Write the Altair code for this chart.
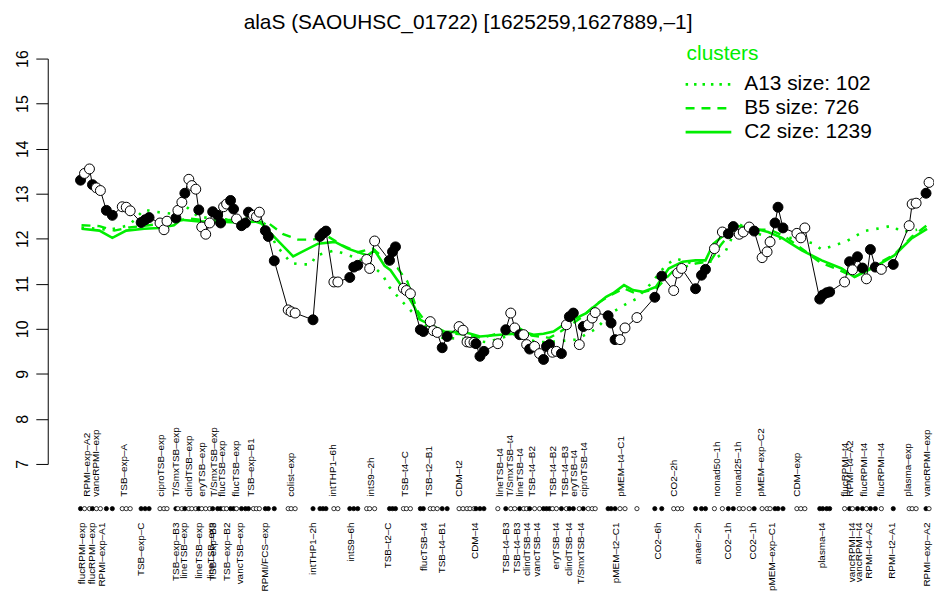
import altair as alt
import pandas as pd

TITLE = "alaS (SAOUHSC_01722) [1625259,1627889,\u20131]"

# sample positions (order along the x axis), expression values, filled(1)/open(0)
pos = [0, 4, 9, 12, 16, 20, 26, 32, 42, 46, 50, 61, 65, 69, 80, 84, 87, 96, 98, 102,
       105, 109, 112, 116, 119, 122, 126, 130, 133, 138, 141, 144, 147, 151, 154, 157, 162, 166, 169, 174,
       177, 180, 186, 189, 195, 209, 212, 216, 234, 241, 244, 247, 255, 259, 271, 275, 279, 288, 291, 296,
       311, 314, 317, 325, 328, 332, 342, 345, 352, 355, 359, 364, 369, 381, 385, 389, 392, 396, 398, 402,
       406, 420, 428, 433, 437, 442, 446, 449, 452, 457, 462, 466, 469, 472, 475, 479, 484, 489, 492, 496,
       502, 506, 511, 515, 518, 531, 534, 538, 543, 548, 560, 578, 585, 597, 601, 605, 619, 625, 629, 638,
       646, 652, 657, 663, 667, 673, 678, 686, 691, 694, 699, 702, 707, 721, 725, 729, 744, 747, 751, 754,
       769, 774, 777, 782, 787, 791, 795, 800, 806, 818, 834, 837, 841, 851, 854]
val = [13.30, 13.45, 13.55, 13.20, 13.13, 13.07, 12.63, 12.52, 12.71, 12.70, 12.62, 12.36, 12.42, 12.47, 12.35, 12.20, 12.39, 12.46, 12.63, 12.81,
       13.01, 13.32, 13.18, 13.10, 12.64, 12.26, 12.10, 12.35, 12.60, 12.52, 12.35, 12.71, 12.77, 12.85, 12.66, 12.44, 12.29, 12.35, 12.59, 12.52,
       12.49, 12.59, 12.18, 12.05, 11.51, 10.42, 10.38, 10.35, 10.20, 12.05, 12.12, 12.17, 11.04, 11.04, 11.14, 11.37, 11.41, 11.54, 11.34, 11.95,
       11.52, 11.71, 11.82, 10.90, 10.85, 10.78, 9.98, 9.94, 10.16, 9.96, 9.92, 9.58, 9.83, 10.05, 9.97, 9.71, 9.70, 9.70, 9.67, 9.39,
       9.50, 9.67, 9.98, 10.35, 10.02, 9.87, 9.87, 9.65, 9.55, 9.61, 9.45, 9.32, 9.61, 9.65, 9.48, 9.50, 9.45, 10.09, 10.27, 10.35,
       9.65, 10.05, 10.09, 10.24, 10.36, 10.29, 10.13, 9.76, 9.76, 10.02, 10.25, 10.70, 11.17, 10.85, 11.24, 11.34, 10.89, 11.19, 11.32, 11.78,
       12.15, 12.11, 12.27, 12.10, 12.15, 12.26, 12.17, 11.58, 11.71, 11.93, 12.35, 12.70, 12.24, 12.12, 12.02, 12.24, 10.66, 10.75, 10.80, 10.82,
       11.04, 11.49, 11.31, 11.60, 11.35, 11.11, 11.76, 11.37, 11.32, 11.43, 12.29, 12.77, 12.79, 13.01, 13.25]
filled = [1, 0, 0, 1, 0, 0, 1, 1, 0, 0, 0, 1, 1, 1, 0, 0, 0, 1, 0, 0,
          1, 0, 0, 0, 1, 0, 0, 0, 1, 1, 1, 0, 0, 1, 1, 0, 1, 1, 1, 0,
          0, 0, 1, 1, 1, 0, 0, 0, 1, 1, 1, 1, 0, 0, 1, 1, 1, 0, 0, 0,
          1, 1, 1, 0, 0, 0, 1, 1, 0, 0, 0, 1, 1, 0, 0, 0, 0, 0, 1, 1,
          1, 0, 1, 0, 0, 1, 0, 0, 1, 0, 0, 1, 1, 1, 0, 0, 1, 0, 1, 1,
          0, 1, 0, 0, 0, 1, 1, 1, 0, 0, 0, 1, 1, 0, 0, 0, 1, 1, 1, 0,
          0, 1, 1, 0, 0, 0, 1, 0, 0, 0, 1, 1, 1, 0, 0, 0, 1, 1, 1, 1,
          0, 1, 0, 1, 1, 0, 1, 1, 0, 1, 0, 0, 0, 1, 0]

# cluster mean profiles
c2_pos = [1, 19, 32, 46, 64, 79, 94, 101, 122, 139, 159, 176, 182, 192, 214, 239, 256, 269, 289, 296,
          306, 312, 319, 326, 336, 342, 356, 366, 389, 402, 422, 449, 456, 466, 476, 489, 509, 529, 536, 547,
          556, 566, 579, 592, 606, 619, 629, 637, 659, 679, 692, 706, 726, 746, 766, 779, 799, 819, 836, 852]
c2_val = [12.22, 12.18, 12.02, 12.18, 12.22, 12.24, 12.30, 12.42, 12.38, 12.38, 12.36, 12.38, 12.34, 12.11, 11.61, 11.89, 11.93, 11.78, 11.63, 11.74,
          11.40, 11.30, 11.08, 10.86, 10.49, 10.20, 10.05, 9.94, 9.91, 9.83, 9.87, 9.91, 9.87, 9.89, 9.94, 10.13, 10.35, 10.71, 10.79, 10.97,
          10.86, 10.82, 10.93, 11.34, 11.49, 11.52, 11.52, 11.89, 12.29, 12.22, 12.15, 12.02, 11.74, 11.52, 11.34, 11.15, 11.37, 11.63, 12.00, 12.22]
b5_pos = [1, 19, 34, 49, 69, 89, 109, 129, 149, 176, 189, 204, 219, 234, 249, 264, 279, 294, 309, 319,
          329, 339, 351, 366, 384, 404, 424, 439, 454, 472, 484, 504, 519, 534, 547, 559, 579, 597, 619, 634,
          644, 659, 677, 694, 709, 726, 744, 764, 779, 799, 819, 837, 852]
b5_val = [12.30, 12.28, 12.18, 12.25, 12.30, 12.35, 12.45, 12.40, 12.42, 12.40, 12.35, 12.10, 11.98, 11.98, 12.05, 11.85, 11.70, 11.78, 11.50, 11.35,
          11.05, 10.40, 10.05, 9.90, 9.88, 9.80, 9.92, 10.05, 9.85, 9.80, 9.95, 10.25, 10.55, 10.75, 10.90, 10.78, 10.88, 11.30, 11.45, 11.50,
          11.85, 12.25, 12.20, 12.20, 12.05, 11.78, 11.48, 11.30, 11.15, 11.40, 11.65, 12.05, 12.30]
a13_pos = [1, 29, 49, 64, 74, 94, 107, 119, 139, 159, 176, 187, 197, 212, 222, 232, 237, 256, 274, 291,
           304, 311, 324, 339, 351, 364, 384, 409, 424, 439, 459, 479, 499, 519, 534, 549, 559, 574, 589, 599,
           614, 634, 649, 662, 682, 699, 716, 737, 746, 759, 772, 789, 806, 817, 826, 842]
a13_val = [12.25, 12.20, 12.30, 12.65, 12.60, 12.55, 12.70, 12.48, 12.45, 12.40, 12.50, 12.30, 11.85, 11.46, 11.43, 11.43, 11.63, 11.74, 11.60, 11.45,
           11.20, 10.92, 10.60, 10.25, 10.00, 9.80, 9.78, 9.70, 9.80, 9.90, 9.70, 9.72, 9.76, 10.00, 10.35, 10.55, 10.66, 11.00, 11.41, 11.56,
           11.46, 11.49, 11.71, 12.33, 12.11, 12.00, 12.02, 11.90, 11.76, 11.85, 11.96, 12.17, 12.24, 12.29, 12.15, 12.20]

# sample labels above and below the sample row
top_pos = [7, 16, 44, 81, 96, 109, 122, 134, 142, 156, 172, 212, 254, 292, 327, 351, 381, 422, 432, 442,
           454, 476, 488, 497, 507, 544, 597, 641, 662, 685, 721, 769, 774, 789, 806, 833, 852]
top_lab = ["RPMI\u2013exp\u2013A2", "vancRPMI\u2013exp", "TSB\u2013exp\u2013A", "ciproTSB\u2013exp", "T/SmxTSB\u2013exp",
           "clindTSB\u2013exp", "eryTSB\u2013exp", "T/SmxTSB\u2013exp", "flucTSB\u2013exp", "flucTSB\u2013exp",
           "TSB\u2013exp\u2013B1", "colist\u2013exp", "intTHP1\u20136h", "intS9\u20132h", "TSB\u2013t4\u2013C",
           "TSB\u2013t2\u2013B1", "CDM\u2013t2", "lineTSB\u2013t4", "T/SmxTSB\u2013t4", "lineTSB\u2013t4",
           "TSB\u2013t4\u2013B2", "TSB\u2013t4\u2013B2", "TSB\u2013t4\u2013B3", "eryTSB\u2013t4", "ciproTSB\u2013t4",
           "pMEM\u2013t4\u2013C1", "CO2\u20132h", "nonad50\u20131h", "nonad25\u20131h", "pMEM\u2013exp\u2013C2",
           "CDM\u2013exp", "flucRPMI\u2013t4", "RPMI\u2013t4\u2013A2", "flucRPMI\u2013t4", "flucRPMI\u2013t4",
           "plasma\u2013exp", "vancRPMI\u2013exp"]
bot_pos = [1, 12, 22, 61, 96, 104, 119, 131, 133, 147, 161, 186, 234, 272, 309, 346, 364, 397, 428, 439,
           449, 459, 479, 492, 504, 539, 581, 621, 652, 677, 696, 746, 776, 784, 794, 817, 852]
bot_lab = ["flucRPMI\u2013exp", "flucRPMI\u2013exp", "RPMI\u2013exp\u2013A1", "TSB\u2013exp\u2013C", "TSB\u2013exp\u2013B3",
           "lineTSB\u2013exp", "lineTSB\u2013exp", "lineTSB\u2013exp", "TSB\u2013exp\u2013B3", "TSB\u2013exp\u2013B2",
           "vancTSB\u2013exp", "RPMI/FCS\u2013exp", "intTHP1\u20132h", "intS9\u20136h", "TSB\u2013t2\u2013C",
           "flucTSB\u2013t4", "TSB\u2013t4\u2013B1", "CDM\u2013t4", "TSB\u2013t4\u2013B3", "TSB\u2013t4\u2013B3",
           "clindTSB\u2013t4", "vancTSB\u2013t4", "eryTSB\u2013t4", "clindTSB\u2013t4", "T/SmxTSB\u2013t4",
           "pMEM\u2013t2\u2013C1", "CO2\u20136h", "anaer\u20132h", "CO2\u20131h", "CO2\u20131h",
           "pMEM\u2013exp\u2013C1", "plasma\u2013t4", "vancRPMI\u2013t4", "vancRPMI\u2013t4", "RPMI\u2013t4\u2013A2",
           "RPMI\u2013t2\u2013A1", "RPMI\u2013exp\u2013A2"]

legend_title = "clusters"
legend_labels = ["A13 size: 102", "B5 size: 726", "C2 size: 1239"]

FONT = "Liberation Sans"
GREEN = "#00EE00"

pts = pd.DataFrame({"pos": pos, "val": val,
                    "kind": ["filled" if f else "open" for f in filled]})
c2 = pd.DataFrame({"pos": c2_pos, "val": c2_val})
b5 = pd.DataFrame({"pos": b5_pos, "val": b5_val})
a13 = pd.DataFrame({"pos": a13_pos, "val": a13_val})
tops = pd.DataFrame({"pos": top_pos, "lab": top_lab})
bots = pd.DataFrame({"pos": bot_pos, "lab": bot_lab})

xs = alt.Scale(domain=[0, 854], range=[33, 887])
ys = alt.Scale(domain=[7, 16], range=[408, 0], nice=False, zero=False)
X = alt.X("pos:Q", scale=xs, axis=None)
Y = alt.Y("val:Q", scale=ys, axis=alt.Axis(
    values=list(range(7, 17)), title=None, grid=False, domainColor="black", domainWidth=1,
    tickColor="black", tickSize=12, tickWidth=1, labelAngle=270, labelAlign="center",
    labelBaseline="bottom", labelPadding=5, labelFontSize=16, labelFont=FONT,
    labelColor="black", labelOverlap=False, labelFlush=False))

l_c2 = alt.Chart(c2).mark_line(color=GREEN, strokeWidth=2.6).encode(x=X, y=Y)
l_b5 = alt.Chart(b5).mark_line(color=GREEN, strokeWidth=2.4, strokeDash=[9, 7]).encode(x=X, y=Y)
l_a13 = alt.Chart(a13).mark_line(color=GREEN, strokeWidth=2.6, strokeDash=[2.5, 8]).encode(x=X, y=Y)

conn = alt.Chart(pts).mark_line(color="black", strokeWidth=1).encode(x=X, y=Y)
fill_enc = alt.Fill("kind:N", scale=alt.Scale(domain=["filled", "open"], range=["black", "white"]), legend=None)
dots = alt.Chart(pts).mark_point(shape="circle", size=100, strokeWidth=1, opacity=1,
                                 filled=True).encode(x=X, y=Y, fill=fill_enc,
                                                     stroke=alt.value("black"))
row = alt.Chart(pts).mark_point(shape="circle", size=18, strokeWidth=0.8, opacity=1,
                                filled=True).encode(x=X, y=alt.value(453), fill=fill_enc,
                                                    stroke=alt.value("black"))
top_txt = alt.Chart(tops).mark_text(angle=270, align="left", baseline="middle", fontSize=10,
                                    font=FONT, color="black").encode(x=X, y=alt.value(441), text="lab:N")
bot_txt = alt.Chart(bots).mark_text(angle=270, align="right", baseline="middle", fontSize=10,
                                    font=FONT, color="black").encode(x=X, y=alt.value(467), text="lab:N")

title_txt = alt.Chart(pd.DataFrame({"t": [TITLE]})).mark_text(
    fontSize=21, font=FONT, color="black", baseline="middle", align="center").encode(
    x=alt.value(423), y=alt.value(-36), text="t:N")

leg_df = pd.DataFrame({"t": [legend_title]})
leg_title = alt.Chart(leg_df).mark_text(fontSize=21, font=FONT, color=GREEN, align="left",
                                        baseline="middle").encode(x=alt.value(643), y=alt.value(-5), text="t:N")
leg_layers = []
dashes = [[2.5, 6], [9, 7], None]
ys_leg = [26, 50, 74]
for lab, d, yy in zip(legend_labels, dashes, ys_leg):
    kw = dict(color=GREEN, strokeWidth=2.6)
    if d is not None:
        kw["strokeDash"] = d
    leg_layers.append(alt.Chart(leg_df).mark_rule(**kw).encode(
        x=alt.value(642), x2=alt.value(688), y=alt.value(yy)))
    leg_layers.append(alt.Chart(pd.DataFrame({"t": [lab]})).mark_text(
        fontSize=21, font=FONT, color="black", align="left", baseline="middle").encode(
        x=alt.value(701), y=alt.value(yy), text="t:N"))

chart = alt.layer(l_c2, l_b5, l_a13, conn, dots, row, top_txt, bot_txt, title_txt, leg_title,
                  *leg_layers).properties(
    width=892, height=538,
    autosize=alt.AutoSizeParams(type="none"),
    padding={"left": 40, "top": 49, "right": 0, "bottom": 0},
    background="white",
).configure_view(stroke=None)

chart.save("out.html", embed_options={"renderer": "svg", "actions": False})
